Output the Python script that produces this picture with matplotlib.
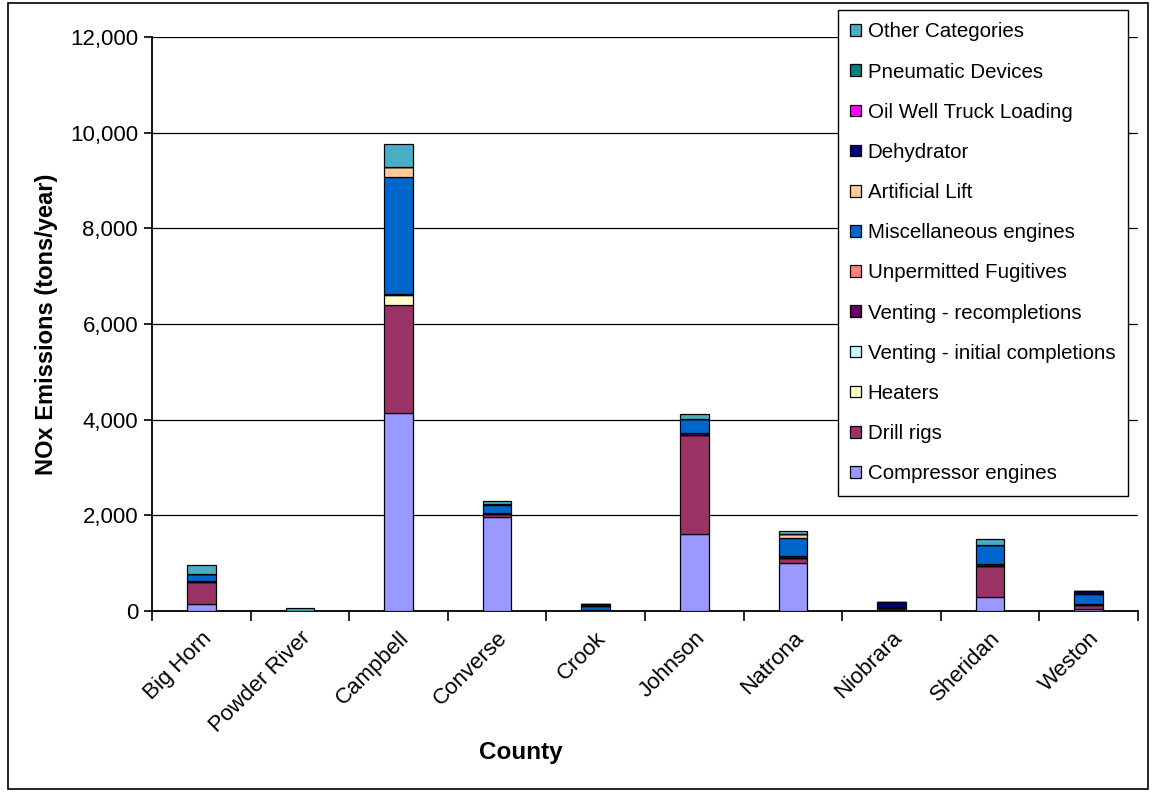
import matplotlib
matplotlib.use("Agg")
import matplotlib.pyplot as plt
from matplotlib.patches import Rectangle
from matplotlib.ticker import FuncFormatter, MultipleLocator
import numpy as np

plt.rcParams['font.family'] = ['Liberation Sans', 'DejaVu Sans']

counties = ["Big Horn", "Powder River", "Campbell", "Converse", "Crook",
            "Johnson", "Natrona", "Niobrara", "Sheridan", "Weston"]

compressor_engines = [140, 0, 4140, 1960, 15, 1620, 1010, 30, 290, 45]
drill_rigs = [470, 0, 2260, 60, 15, 2060, 105, 30, 660, 70]
heaters = [0, 0, 210, 0, 0, 0, 0, 0, 0, 0]
venting_initial = [0, 0, 0, 0, 0, 0, 0, 0, 0, 0]
venting_recompletions = [25, 0, 20, 20, 0, 40, 40, 0, 35, 25]
unpermitted_fugitives = [0, 0, 0, 0, 0, 0, 0, 0, 0, 0]
misc_engines = [130, 10, 2440, 170, 80, 290, 375, 20, 400, 210]
artificial_lift = [0, 0, 210, 20, 0, 0, 70, 0, 0, 0]
dehydrator = [10, 0, 10, 10, 40, 10, 0, 100, 0, 70]
oil_well_truck_loading = [0, 0, 0, 0, 0, 0, 0, 0, 0, 0]
pneumatic_devices = [0, 0, 0, 0, 0, 0, 0, 0, 0, 0]
other_categories = [190, 50, 470, 60, 0, 100, 75, 0, 110, 0]

series_names = ["Compressor engines", "Drill rigs", "Heaters",
                "Venting - initial completions", "Venting - recompletions",
                "Unpermitted Fugitives", "Miscellaneous engines", "Artificial Lift",
                "Dehydrator", "Oil Well Truck Loading", "Pneumatic Devices",
                "Other Categories"]
series_values = [compressor_engines, drill_rigs, heaters, venting_initial,
                 venting_recompletions, unpermitted_fugitives, misc_engines,
                 artificial_lift, dehydrator, oil_well_truck_loading,
                 pneumatic_devices, other_categories]
series_colors = ["#9999FF", "#993366", "#FFFFCC", "#CCFFFF", "#660066",
                 "#FF8080", "#0066CC", "#FFCC99", "#000080", "#FF00FF",
                 "#008080", "#4BACC6"]

W, H = 1153, 792
fig = plt.figure(figsize=(W / 100, H / 100), dpi=100)
ax = fig.add_axes([152 / W, 1 - 611 / H, (1138 - 152) / W, (611 - 37) / H])

x = np.arange(len(counties))
bottom = np.zeros(len(counties))
handles = []
for name, vals, col in zip(series_names, series_values, series_colors):
    v = np.array(vals, dtype=float)
    b = ax.bar(x, v, width=0.29, bottom=bottom, color=col, edgecolor="black",
               linewidth=0.9, label=name, zorder=3)
    handles.append(b)
    bottom += v

ax.set_xlim(-0.5, len(counties) - 0.5)
ax.set_ylim(0, 12000)
ax.yaxis.set_major_locator(MultipleLocator(2000))
ax.yaxis.set_major_formatter(FuncFormatter(lambda v, p: f"{int(v):,}"))
ax.grid(axis="y", color="black", linewidth=0.9, zorder=0)
ax.set_axisbelow(True)
for s in ["top", "right"]:
    ax.spines[s].set_visible(False)
for s in ["left", "bottom"]:
    ax.spines[s].set_linewidth(1.3)

ax.tick_params(axis="y", labelsize=16, length=6, width=1.2, direction="out", pad=4)
ax.set_xticks(x)
ax.set_xticklabels(counties, rotation=45, ha="right", rotation_mode="anchor",
                   fontsize=16)
ax.tick_params(axis="x", length=0, pad=12)
ax.set_xticks(np.arange(-0.5, len(counties), 1.0), minor=True)
ax.tick_params(axis="x", which="minor", length=7, width=1.2, direction="out")

fig.text(47 / W, 1 - 324 / H, "NOx Emissions (tons/year)", rotation=90,
         ha="center", va="center", fontsize=17, fontweight="bold")
fig.text(521 / W, 1 - 752 / H, "County", ha="center", va="center",
         fontsize=17.5, fontweight="bold")

leg = fig.legend(handles[::-1], series_names[::-1], loc="upper left",
                 bbox_to_anchor=(838 / W, 1 - 10 / H), bbox_transform=fig.transFigure,
                 fontsize=14.8, frameon=True, fancybox=False, shadow=False,
                 labelspacing=1.03, handlelength=0.5, handleheight=0.5,
                 handletextpad=0.35, borderpad=0.6, borderaxespad=0)
leg.get_frame().set_edgecolor("black")
leg.get_frame().set_linewidth(1.0)
leg.get_frame().set_alpha(1)
leg.set_zorder(10)

fig.patches.append(Rectangle((8 / W, 3 / H), (1148 - 8) / W, (789 - 3) / H,
                             transform=fig.transFigure, fill=False,
                             edgecolor="black", linewidth=1.2))

fig.savefig("out.png", dpi=100)
